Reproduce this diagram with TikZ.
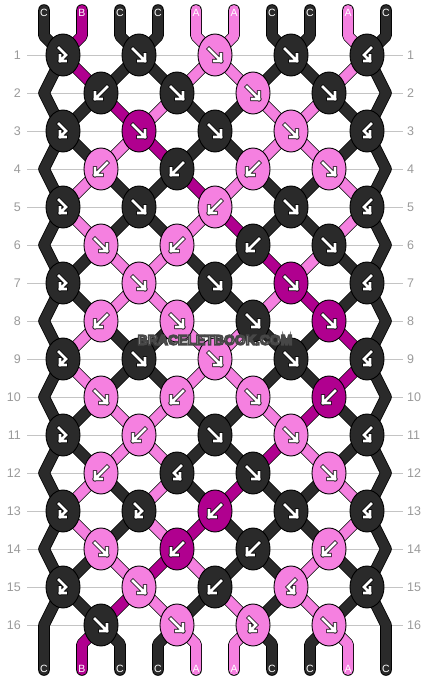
\documentclass[tikz,border=0pt]{standalone}
\usepackage{fontspec}
\setmainfont{Liberation Sans}
\usetikzlibrary{shapes.geometric}
\definecolor{colC}{HTML}{2A2A2A}
\definecolor{colA}{HTML}{F580E0}
\definecolor{colB}{HTML}{B0008F}
\definecolor{rowgray}{HTML}{C4C4C4}
\definecolor{numgray}{HTML}{9A9A9A}
\definecolor{wmfill}{HTML}{DDDDDD}
\pgfdeclarelayer{rows}
\pgfdeclarelayer{strings}
\pgfsetlayers{rows,strings,main}
% knot icons
\newcommand\kicon[2]{\draw[iconout,shift={(#1)}] #2; \draw[iconin,shift={(#1)}] #2;}
\newcommand\kicf[1]{\kicon{#1}{(-6,-6)--(6,6) (6,-0.5)--(6,6)--(-0.5,6)}}
\newcommand\kicb[1]{\kicon{#1}{(6,-6)--(-6,6) (-6,-0.5)--(-6,6)--(0.5,6)}}
\newcommand\kicfb[1]{\kicon{#1}{(-4,-7)--(3,0)--(-3,6) (-3,0.5)--(-3,6)--(2.5,6)}}
\newcommand\kicbf[1]{\kicon{#1}{(4,-7)--(-3,0)--(3,6) (3,0.5)--(3,6)--(-2.5,6)}}
% a row of knots: #1 row, #2 x of first knot, #3 index/type/colour
\newcommand\knotrow[3]{\foreach \kj/\kt/\kc in {#3}{%
  \node[knot, fill=col\kc] (k#1-\kj) at ({#2+76*(\kj-1)},{55+38*(#1-1)}) {};
  \csname kic\kt\endcsname{k#1-\kj.center}}}
% string segments between rows, positions 2..9
\newcommand\gapdown[3]{\foreach \sc [count=\pp from 2] in {#3}{%
  \pgfmathtruncatemacro\ja{(\pp+1)/2}\pgfmathtruncatemacro\jb{\pp/2}%
  \draw[seg, double=col\sc] (k#1-\ja.center) -- (k#2-\jb.center);}}
\newcommand\gapup[3]{\foreach \sc [count=\pp from 2] in {#3}{%
  \pgfmathtruncatemacro\ja{(\pp+1)/2}\pgfmathtruncatemacro\jb{\pp/2}%
  \draw[seg, double=col\sc] (k#1-\jb.center) -- (k#2-\ja.center);}}
\begin{document}
\begin{tikzpicture}[x=1pt,y=-1pt,
  knot/.style={ellipse, draw=black, line width=0.9pt, minimum width=34pt, minimum height=42pt, inner sep=0pt, outer sep=0pt},
  seg/.style={draw=black, line width=0.8pt, double distance=10pt, line join=round},
  iconout/.style={draw=black, line width=4.2pt, line cap=rect, line join=miter},
  iconin/.style={draw=white, line width=2.6pt, line cap=rect, line join=miter},
  rownum/.style={inner sep=0pt, text=numgray, font=\fontsize{12.5}{12.5}\selectfont},
  rowline/.style={draw=rowgray, line width=1pt, shorten <=6pt, shorten >=4pt},
  strlabel/.style={inner sep=0pt, text=white, font=\fontsize{10.5}{10.5}\selectfont},
  wm/.style={inner sep=0pt, font=\fontsize{14}{14}\selectfont\bfseries}]
\useasboundingbox (0,0) rectangle (430,680);
\begin{pgfonlayer}{rows}
  \fill[white] (0,0) rectangle (430,680);
\end{pgfonlayer}
% row numbers and guide lines
\foreach \r in {1,...,16}{
  \node[rownum, anchor=east] (rl\r) at (21,{55+38*(\r-1)}) {\r};
  \node[rownum, anchor=west] (rr\r) at (407,{55+38*(\r-1)}) {\r};
  \begin{pgfonlayer}{rows}\draw[rowline] (rl\r.east) -- (rr\r.west);\end{pgfonlayer}
}
% string ends and edge turning points
\foreach \pp in {1,...,10}{
  \coordinate (t\pp) at ({44+38*(\pp-1)},10);
  \coordinate (tk\pp) at ({44+38*(\pp-1)},36);
  \coordinate (bk\pp) at ({44+38*(\pp-1)},644);
  \coordinate (b\pp) at ({44+38*(\pp-1)},670);
}
\foreach \r in {2,4,...,16}{
  \coordinate (k\r-0) at (44,{55+38*(\r-1)});
  \coordinate (k\r-5) at (386,{55+38*(\r-1)});
}
% knots
\knotrow{1}{63}{1/fb/C,2/f/C,3/f/A,4/f/C,5/bf/C}
\knotrow{2}{101}{1/b/C,2/f/C,3/f/A,4/f/C}
\knotrow{3}{63}{1/fb/C,2/f/B,3/f/C,4/f/A,5/bf/C}
\knotrow{4}{101}{1/b/A,2/b/C,3/b/A,4/f/A}
\knotrow{5}{63}{1/fb/C,2/f/C,3/b/A,4/f/C,5/bf/C}
\knotrow{6}{101}{1/f/A,2/b/A,3/b/C,4/f/C}
\knotrow{7}{63}{1/fb/C,2/f/A,3/f/C,4/f/B,5/bf/C}
\knotrow{8}{101}{1/b/A,2/f/A,3/f/C,4/f/B}
\knotrow{9}{63}{1/fb/C,2/f/C,3/f/A,4/f/C,5/bf/C}
\knotrow{10}{101}{1/f/A,2/b/A,3/f/A,4/b/B}
\knotrow{11}{63}{1/fb/C,2/b/A,3/f/C,4/f/A,5/bf/C}
\knotrow{12}{101}{1/b/A,2/bf/C,3/f/C,4/f/A}
\knotrow{13}{63}{1/fb/C,2/fb/C,3/b/B,4/f/C,5/bf/C}
\knotrow{14}{101}{1/f/A,2/b/B,3/b/C,4/b/A}
\knotrow{15}{63}{1/fb/C,2/f/A,3/b/C,4/bf/A,5/bf/C}
\knotrow{16}{101}{1/f/C,2/f/A,3/fb/A,4/f/A}
% strings
\begin{pgfonlayer}{strings}
  \draw[seg, double=colC, line cap=round] (t1) -- (tk1) -- (k1-1.center) -- (k2-0) -- (k3-1.center) -- (k4-0) -- (k5-1.center) -- (k6-0) -- (k7-1.center) -- (k8-0) -- (k9-1.center) -- (k10-0) -- (k11-1.center) -- (k12-0) -- (k13-1.center) -- (k14-0) -- (k15-1.center) -- (k16-0) -- (b1);
  \draw[seg, double=colC, line cap=round] (t10) -- (tk10) -- (k1-5.center) -- (k2-5) -- (k3-5.center) -- (k4-5) -- (k5-5.center) -- (k6-5) -- (k7-5.center) -- (k8-5) -- (k9-5.center) -- (k10-5) -- (k11-5.center) -- (k12-5) -- (k13-5.center) -- (k14-5) -- (k15-5.center) -- (k16-5) -- (b10);
  \foreach \sc [count=\pp from 2] in {B,C,C,A,A,C,C,A}{
    \pgfmathtruncatemacro\ja{(\pp+1)/2}\pgfmathtruncatemacro\jb{\pp/2}
    \draw[seg, double=col\sc, line cap=round] (t\pp) -- (tk\pp) -- (k1-\ja.center);
    \draw[seg, double=col\sc, line cap=round] (k16-\jb.center) -- (bk\pp) -- (b\pp);
  }
  \gapdown{1}{2}{B,C,C,A,A,C,C,A}
  \gapup{2}{3}{C,B,A,C,C,A,A,C}
  \gapdown{3}{4}{C,A,B,C,C,A,A,C}
  \gapup{4}{5}{A,C,C,B,A,C,C,A}
  \gapdown{5}{6}{A,C,C,A,B,C,C,A}
  \gapup{6}{7}{C,A,A,C,C,B,A,C}
  \gapdown{7}{8}{C,A,A,C,C,A,B,C}
  \gapup{8}{9}{A,C,C,A,A,C,C,B}
  \gapdown{9}{10}{A,C,C,A,A,C,C,B}
  \gapup{10}{11}{C,A,A,C,C,A,B,C}
  \gapdown{11}{12}{C,A,A,C,C,B,A,C}
  \gapup{12}{13}{A,C,A,C,B,C,C,A}
  \gapdown{13}{14}{A,C,A,B,C,C,C,A}
  \gapup{14}{15}{C,A,B,A,C,C,A,C}
  \gapdown{15}{16}{C,B,A,C,A,C,A,C}
\end{pgfonlayer}
% string letters
\foreach \pp/\sc in {1/C,2/B,3/C,4/C,5/A,6/A,7/C,8/C,9/A,10/C}{
  \node[strlabel] (lt\pp) at ({44+38*(\pp-1)},12.5) {\sc};
  \node[strlabel] (lb\pp) at ({44+38*(\pp-1)},668.5) {\sc};
}
% watermark
\node[wm] (wm) at (215,340) {\color{wmfill}\special{pdf:literal direct 0.28 0.28 0.28 RG 1.5 w 2 Tr}BRACELETBOOK.COM\special{pdf:literal direct 0 Tr}};
\end{tikzpicture}
\end{document}
